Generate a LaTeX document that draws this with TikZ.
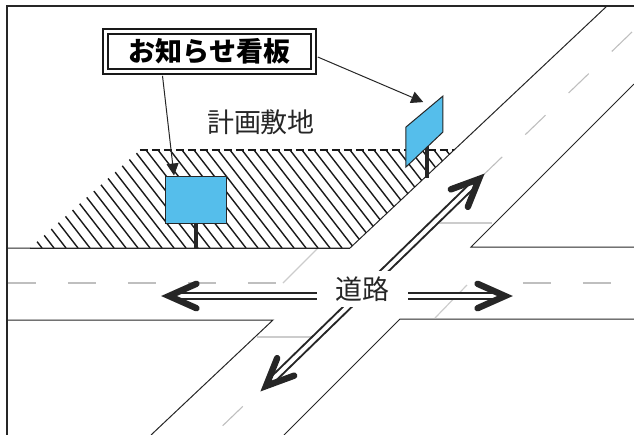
\documentclass[tikz,border=0pt]{standalone}
\usepackage{fontspec}
\newfontfamily\jpfont{Noto Sans CJK JP}
\usetikzlibrary{arrows.meta,calc}
\definecolor{signblue}{RGB}{85,190,235}

\begin{document}
\begin{tikzpicture}[x=0.5pt, y=-0.5pt]
		\tikzstyle{roadline} = [draw=black!85, line width=0.5pt]
		\tikzstyle{centre} = [draw=black!25, line width=0.55pt, dash pattern=on 14pt off 16pt]
		\tikzstyle{stopline} = [draw=black!20, line width=0.6pt]
		\tikzstyle{hatch} = [draw=black!90, line width=0.7pt]
		\tikzstyle{board} = [draw=black!85, fill=signblue, line width=0.5pt, inner sep=0pt]
		\tikzstyle{post} = [draw=black!85, line width=1.8pt]
		\tikzstyle{shaft} = [draw=black!85, line width=1pt, double, double distance=2pt, shorten <=4pt, shorten >=4pt]
		\tikzstyle{head} = [draw=black!85, line width=3.2pt, line cap=round, line join=miter]
		\tikzstyle{pointer} = [draw=black!85, line width=0.5pt, -{Triangle[length=6pt,width=6pt]}]
		\tikzstyle{tag} = [draw=black!90, line width=0.8pt, double, double distance=1.8pt, minimum width=104pt, minimum height=20pt, inner sep=0pt, font=\jpfont\bfseries\fontsize{13.5}{16}\selectfont]
		\tikzstyle{jp} = [inner sep=0pt, text=black!85, font=\jpfont\fontsize{13.5}{16}\selectfont]

		\useasboundingbox (0,0) rectangle (634,435);

		% frame
		\draw[line width=0.8pt, black!85] (7,435) -- (7,6) -- (634,6);

		% road edges
		\draw[roadline] (7,248) -- (350,248) -- (607,6);
		\draw[roadline] (634,84) -- (471,247) -- (634,247);
		\draw[roadline] (7,320) -- (273,320) -- (151,435);
		\draw[roadline] (284,435) -- (400,319) -- (634,319);

		% centre lines and stop lines
		\draw[centre] (8,283) -- (300,283);
		\draw[centre] (523,283) -- (634,283);
		\draw[centre] (632,32) -- (212,436);
		\draw[stopline] (283,283) -- (318,248);
		\draw[stopline] (435,318) -- (467,285);
		\draw[stopline] (433,223) -- (492,223);
		\draw[stopline] (257,337) -- (319,337);

		% site
		\begin{scope}
		\clip (30,248) -- (140,150) -- (454,150) -- (350,248) -- cycle;
		\foreach \x in {-70,-58,...,470}
			\draw[hatch] (\x,150) -- (\x+76,248);
		\end{scope}
		\draw[hatch, dash pattern=on 4pt off 2pt] (140,150) -- (454,150);
		\draw[roadline] (30,248) -- (350,248);

		% signs
		\draw[post] (196,223) -- (196,248);
		\node[board, minimum width=30.5pt, minimum height=23.5pt] (sign1) at (196.5,199.5) {};
		\coordinate (s2a) at (406,127);
		\coordinate (s2b) at (443,96);
		\coordinate (s2c) at (443,132);
		\coordinate (s2d) at (406,167);
		\draw[post] (427,146) -- (427,178);
		\draw[board] (s2a) -- (s2b) -- (s2c) -- (s2d) -- cycle;

		% labels
		\node[tag] (kanban) at (209.5,51.5) {お知らせ看板};
		\node[jp] (site) at (261,122) {計画敷地};
		\draw[pointer] ($(kanban.south)+(-47,3.5)$) -- ($(sign1.north)+(-22.5,0)$);
		\draw[pointer, shorten >=4.5pt] ($(kanban.east)+(3.5,5.5)$) -- ($(s2a)!0.69!(s2b)$);

		% road arrows
		\coordinate (wl) at (169,296);
		\coordinate (wr) at (505,296);
		\coordinate (nu) at (479,179);
		\coordinate (nd) at (266,386);
		\draw[shaft] (wl) -- (wr);
		\draw[shaft] (nd) -- (nu);
		\foreach \tip/\tail in {wl/wr, wr/wl, nu/nd, nd/nu}
			\draw[head] ($(\tip)!15pt!24:(\tail)$) -- (\tip) -- ($(\tip)!15pt!-24:(\tail)$);
		\node[jp, fill=white, minimum width=45.5pt, minimum height=18pt] (road) at (362.5,289) {道路};

		\end{tikzpicture}
\end{document}
